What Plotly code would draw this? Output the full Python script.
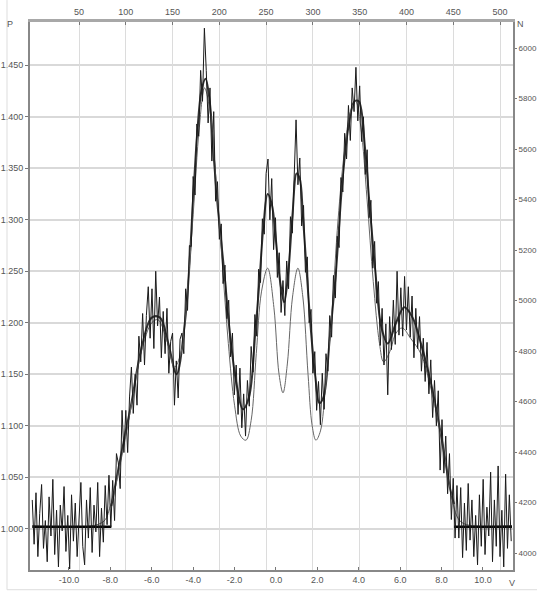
import plotly.graph_objects as go

# Measured signal P, one value every second channel (channels 0..512)
channels = list(range(0, 513, 2))
p_measured = [
    1.028, 0.985, 1.035, 0.973, 1.015, 1.043, 0.981, 1.008, 0.968, 1.031,
    0.993, 1.048, 0.975, 1.018, 0.963, 1.023, 0.998, 1.041, 0.978, 1.013,
    0.961, 1.033, 0.988, 1.025, 0.973, 1.011, 1.045, 0.983, 0.965, 1.028,
    0.991, 1.040, 0.977, 1.023, 0.997, 1.045, 0.973, 1.020, 0.987, 1.042,
    1.004, 1.052, 1.002, 1.047, 1.008, 1.073, 1.064, 1.039, 1.115, 1.074,
    1.115, 1.074, 1.128, 1.157, 1.112, 1.150, 1.120, 1.187, 1.162, 1.209,
    1.159, 1.207, 1.235, 1.185, 1.233, 1.175, 1.250, 1.197, 1.225, 1.166,
    1.211, 1.170, 1.214, 1.151, 1.182, 1.190, 1.120, 1.163, 1.127, 1.184,
    1.190, 1.170, 1.233, 1.212, 1.275, 1.274, 1.342, 1.324, 1.393, 1.381,
    1.445, 1.415, 1.486, 1.445, 1.394, 1.428, 1.357, 1.405, 1.318, 1.337,
    1.281, 1.296, 1.238, 1.256, 1.204, 1.222, 1.167, 1.190, 1.130, 1.159,
    1.111, 1.156, 1.098, 1.131, 1.090, 1.144, 1.119, 1.177, 1.152, 1.208,
    1.187, 1.252, 1.239, 1.301, 1.286, 1.345, 1.359, 1.300, 1.340, 1.271,
    1.302, 1.244, 1.268, 1.210, 1.241, 1.207, 1.260, 1.233, 1.303, 1.287,
    1.341, 1.397, 1.334, 1.360, 1.294, 1.314, 1.249, 1.264, 1.200, 1.213,
    1.151, 1.172, 1.115, 1.143, 1.101, 1.151, 1.116, 1.170, 1.153, 1.207,
    1.186, 1.246, 1.224, 1.284, 1.273, 1.341, 1.327, 1.384, 1.359, 1.411,
    1.377, 1.428, 1.405, 1.448, 1.396, 1.430, 1.376, 1.400, 1.344, 1.368,
    1.302, 1.319, 1.253, 1.279, 1.219, 1.240, 1.178, 1.214, 1.159, 1.199,
    1.130, 1.206, 1.174, 1.222, 1.179, 1.250, 1.188, 1.234, 1.187, 1.245,
    1.193, 1.235, 1.186, 1.226, 1.166, 1.214, 1.175, 1.206, 1.153, 1.185,
    1.143, 1.181, 1.131, 1.164, 1.108, 1.144, 1.100, 1.134, 1.057, 1.106,
    1.054, 1.090, 1.034, 1.073, 1.009, 1.049, 0.991, 1.042, 0.991, 1.040,
    0.972, 1.025, 0.979, 1.044, 0.989, 1.028, 0.973, 1.013, 0.965, 1.033,
    0.983, 1.048, 0.975, 1.021, 0.993, 1.055, 0.968, 1.028, 0.983, 1.061,
    0.973, 1.018, 0.963, 1.053, 0.981, 1.033, 0.988,
]

# Smoothed fit of the measured signal versus V
fit_v = [-7.95, -7.5, -7.0, -6.5, -6.0, -5.6, -5.2, -4.8, -4.4, -4.2, -4.0,
         -3.8, -3.6, -3.4, -3.2, -3.0, -2.8, -2.5, -2.2, -1.9, -1.6, -1.3,
         -1.0, -0.8, -0.6, -0.4, -0.2, 0.0, 0.2, 0.4, 0.6, 0.8, 1.0, 1.15,
         1.3, 1.5, 1.7, 1.9, 2.1, 2.3, 2.6, 2.9, 3.2, 3.5, 3.8, 4.0, 4.3,
         4.5, 4.8, 5.1, 5.4, 5.8, 6.2, 6.6, 7.0, 7.5, 8.0, 8.4, 8.6]
fit_p = [1.022, 1.070, 1.120, 1.175, 1.205, 1.205, 1.180, 1.150, 1.200,
         1.250, 1.320, 1.385, 1.425, 1.437, 1.415, 1.360, 1.310, 1.250,
         1.185, 1.140, 1.116, 1.128, 1.190, 1.240, 1.295, 1.325, 1.315,
         1.280, 1.240, 1.220, 1.250, 1.305, 1.345, 1.340, 1.305, 1.245,
         1.190, 1.148, 1.122, 1.128, 1.185, 1.250, 1.335, 1.390, 1.415,
         1.415, 1.370, 1.320, 1.250, 1.195, 1.180, 1.200, 1.215, 1.205,
         1.180, 1.140, 1.088, 1.040, 1.024]

# Flat baseline fitted at both ends
base_left_v = [-11.77, -7.95]
base_right_v = [8.6, 11.4]
base_p = [1.002, 1.002]

# Model curve versus V
model_v = [-11.77, -8.4, -8.0, -7.5, -7.0, -6.5, -6.0, -5.7, -5.3, -4.9,
           -4.6, -4.3, -4.0, -3.7, -3.45, -3.2, -2.9, -2.6, -2.3, -2.0,
           -1.7, -1.45, -1.2, -0.95, -0.7, -0.4, -0.1, 0.15, 0.34, 0.55,
           0.8, 1.06, 1.3, 1.55, 1.75, 1.93, 2.15, 2.4, 2.7, 3.0, 3.3, 3.6,
           3.85, 4.1, 4.4, 4.7, 5.0, 5.2, 5.5, 5.8, 6.1, 6.5, 7.0, 7.5, 8.0,
           8.4, 8.8, 9.2, 11.4]
model_p = [1.003, 1.006, 1.022, 1.065, 1.118, 1.172, 1.200, 1.203, 1.185,
           1.157, 1.170, 1.225, 1.305, 1.390, 1.428, 1.408, 1.340, 1.260,
           1.180, 1.120, 1.090, 1.086, 1.105, 1.170, 1.230, 1.253, 1.215,
           1.150, 1.132, 1.160, 1.225, 1.253, 1.225, 1.150, 1.100, 1.086,
           1.095, 1.140, 1.210, 1.300, 1.365, 1.405, 1.415, 1.390, 1.320,
           1.240, 1.180, 1.162, 1.172, 1.190, 1.195, 1.185, 1.170, 1.135,
           1.088, 1.040, 1.010, 1.004, 1.003]

# Axis ticks
p_ticks = [1.000, 1.050, 1.100, 1.150, 1.200, 1.250, 1.300, 1.350, 1.400, 1.450]
v_ticks = [-10, -8, -6, -4, -2, 0, 2, 4, 6, 8, 10]
v_labels = ["-10.0", "-8.0", "-6.0", "-4.0", "-2.0", "0.0", "2.0", "4.0",
            "6.0", "8.0", "10.0"]
n_ticks = [4000, 4200, 4400, 4600, 4800, 5000, 5200, 5400, 5600, 5800, 6000]
ch_ticks = [50, 100, 150, 200, 250, 300, 350, 400, 450, 500]

font_family = "Liberation Sans, Arial, sans-serif"
tick_font = dict(family=font_family, size=9, color="#555555")
right_font = dict(family=font_family, size=8, color="#555555")

fig = go.Figure()

fig.add_trace(go.Scatter(x=channels, y=p_measured, xaxis="x2", yaxis="y",
                         mode="lines", line=dict(color="#1a1a1a", width=1.0),
                         hoverinfo="skip"))
fig.add_trace(go.Scatter(x=fit_v, y=fit_p, mode="lines", line_shape="spline",
                         line=dict(color="#333333", width=2.0), hoverinfo="skip"))
fig.add_trace(go.Scatter(x=model_v, y=model_p, mode="lines", line_shape="spline",
                         line=dict(color="#666666", width=1.0), hoverinfo="skip"))
fig.add_trace(go.Scatter(x=base_left_v, y=base_p, mode="lines",
                         line=dict(color="#000000", width=2.5), hoverinfo="skip"))
fig.add_trace(go.Scatter(x=base_right_v, y=base_p, mode="lines",
                         line=dict(color="#000000", width=2.5), hoverinfo="skip"))
# invisible trace to activate the right-hand N axis
fig.add_trace(go.Scatter(x=[0], y=[5000], yaxis="y2", mode="markers",
                         marker=dict(opacity=0), hoverinfo="skip"))

fig.update_layout(
    width=537, height=593,
    margin=dict(l=30, r=24, t=22, b=23, autoexpand=False),
    paper_bgcolor="white", plot_bgcolor="white",
    showlegend=False,
    xaxis=dict(range=[-11.88, 11.45], tickvals=v_ticks, ticktext=v_labels,
               showgrid=False, zeroline=False, ticks="inside", ticklen=3,
               tickcolor="#777777", showline=True, linecolor="#888888",
               linewidth=2, automargin=False, tickfont=tick_font),
    xaxis2=dict(range=[-2.4, 513.9], overlaying="x", side="top",
                tickvals=ch_ticks, showgrid=True, gridcolor="#dcdcdc",
                gridwidth=1.2, zeroline=False, ticks="inside", ticklen=3,
                tickcolor="#777777", showline=True, linecolor="#a8a8a8",
                linewidth=3, automargin=False, tickfont=tick_font),
    yaxis=dict(range=[0.960, 1.492], tickvals=p_ticks, tickformat=".3f",
               showgrid=True, gridcolor="#d9d9d9", gridwidth=2,
               zeroline=False, ticks="outside", ticklen=3,
               tickcolor="#777777", showline=True, linecolor="#888888",
               linewidth=2, automargin=False, tickfont=tick_font),
    yaxis2=dict(range=[3933, 6103], overlaying="y", side="right",
                tickvals=n_ticks, showgrid=False, zeroline=False,
                ticks="outside", ticklen=2, tickcolor="#777777",
                showline=True, linecolor="#888888", linewidth=2,
                automargin=False, tickfont=right_font),
    annotations=[
        dict(text="P", x=-0.0414, y=0.9964, xref="paper", yref="paper",
             xanchor="center", yanchor="middle", showarrow=False, font=tick_font),
        dict(text="N", x=1.0145, y=0.9964, xref="paper", yref="paper",
             xanchor="center", yanchor="middle", showarrow=False, font=tick_font),
        dict(text="V", x=0.998, y=-0.024, xref="paper", yref="paper",
             xanchor="center", yanchor="middle", showarrow=False, font=tick_font),
    ],
    shapes=[
        dict(type="line", xref="paper", yref="paper", x0=-0.0476, x1=-0.0476,
             y0=-0.036, y1=1.04, line=dict(color="#dddddd", width=1)),
        dict(type="line", xref="paper", yref="paper", x0=-0.0476, x1=1.05,
             y0=-0.036, y1=-0.036, line=dict(color="#dddddd", width=1)),
    ],
)

fig.write_html("out.html")
